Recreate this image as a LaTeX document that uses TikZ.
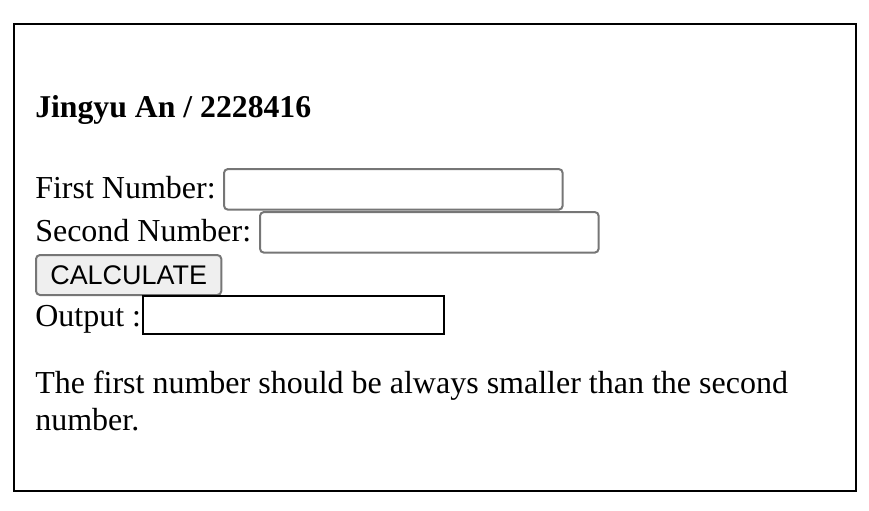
\documentclass[tikz,border=0pt]{standalone}
\usepackage{fontspec}
\setmainfont{Liberation Serif}
\setsansfont{Liberation Sans}
\usetikzlibrary{positioning}
\definecolor{fieldgray}{HTML}{767676}
\definecolor{btnfill}{HTML}{EFEFEF}

\tikzset{
  txt/.style={anchor=base west,inner sep=0pt,font=\fontsize{24}{28}\selectfont},
  field/.style={draw=fieldgray,line width=1.5pt,rounded corners=3pt,anchor=north west,
    inner sep=0pt,minimum width=254pt,minimum height=30.5pt},
  btn/.style={draw=fieldgray,fill=btnfill,line width=1.5pt,rounded corners=3pt,anchor=north west,
    inner sep=0pt,minimum width=139pt,minimum height=30pt,font=\sffamily\fontsize{20.2}{24}\selectfont},
  outbox/.style={draw,line width=1.5pt,anchor=north west,inner sep=0pt,
    minimum width=226pt,minimum height=28.5pt}
}

\begin{document}
\begin{tikzpicture}[x=0.75pt,y=-0.75pt]
		\useasboundingbox (0,0) rectangle (869,511);
		\draw[line width=1.5pt] (14,24) rectangle (856,491);
		\node[txt,font=\bfseries\fontsize{23.8}{28}\selectfont] (title) at (35,117) {Jingyu An / 2228416};
		\node[txt] (firstlbl) at (35,198) {First Number:};
		\node[field] (firstin) at (223,168) {};
		\node[txt] (secondlbl) at (35,241) {Second Number:};
		\node[field] (secondin) at (259,211) {};
		\node[btn] (calc) at (35,254) {CALCULATE};
		\node[txt] (outlbl) at (35,326) {Output :};
		\node[outbox] (outfield) at (142,295) {};
		\node[txt] (note1) at (35,393) {The first number should be always smaller than the second};
		\node[txt] (note2) at (35,430) {number.};
	\end{tikzpicture}
\end{document}
